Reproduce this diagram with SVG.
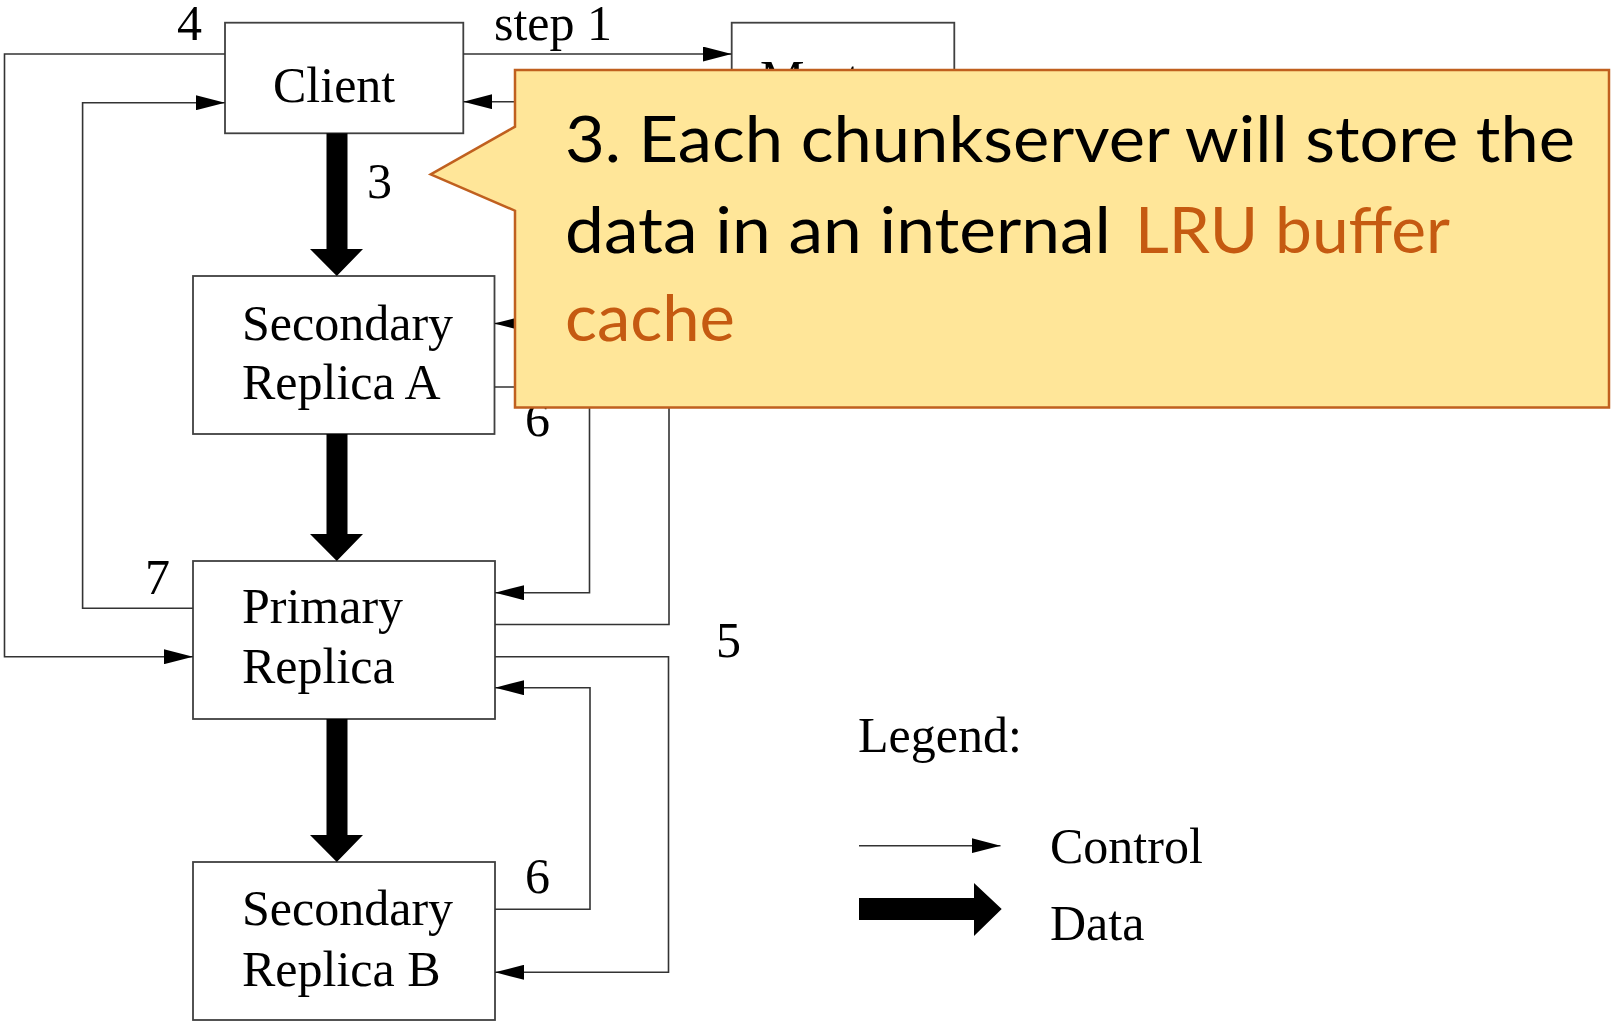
<svg xmlns="http://www.w3.org/2000/svg" width="1611" height="1023" viewBox="0 0 1611 1023">
  <style>
    .box { fill: #ffffff; stroke: #404040; stroke-width: 1.8; }
    .lbl { font-family: "Liberation Serif", "Times New Roman", serif; font-size: 50px; fill: #000000; }
    .ctl { fill: none; stroke: #333333; stroke-width: 1.6; marker-end: url(#head); }
    .data { fill: #000000; stroke: none; }
    .note { font-family: Lato, "Open Sans", sans-serif; font-size: 63px; fill: #000000; }
    .hot { fill: #C55A11; }
  </style>
  <defs>
    <marker id="head" markerUnits="userSpaceOnUse" viewBox="0 0 29 15" refX="29" refY="7.5" markerWidth="29" markerHeight="15" orient="auto">
      <path d="M0,0 L29,7.5 L0,15 Z" fill="#000000"/>
    </marker>
  </defs>
  <rect width="1611" height="1023" fill="#ffffff"/>

  <!-- nodes -->
  <g id="client">
    <rect class="box" x="225" y="22.7" width="238.3" height="110.6"/>
    <text class="lbl" x="273" y="101.7">Client</text>
  </g>
  <g id="master">
    <rect class="box" x="731.7" y="22.7" width="222.6" height="150"/>
    <text class="lbl" x="760" y="95">Master</text>
  </g>
  <g id="secondary-a">
    <rect class="box" x="193" y="276" width="301.5" height="158"/>
    <text class="lbl" x="242" y="340">Secondary</text>
    <text class="lbl" x="242" y="399">Replica A</text>
  </g>
  <g id="primary">
    <rect class="box" x="193" y="561" width="302" height="158"/>
    <text class="lbl" x="242" y="623">Primary</text>
    <text class="lbl" x="242" y="683">Replica</text>
  </g>
  <g id="secondary-b">
    <rect class="box" x="193" y="862" width="302" height="158"/>
    <text class="lbl" x="242" y="925">Secondary</text>
    <text class="lbl" x="242" y="985.5">Replica B</text>
  </g>

  <!-- connectors -->
  <g id="connectors">
    <!-- control flow -->
    <path class="ctl" d="M463.3,54 H731.7"/>
    <path class="ctl" d="M731.7,101.7 H463.3"/>
    <path class="ctl" d="M225,54 H4.5 V656.7 H193"/>
    <path class="ctl" d="M193,608.3 H82.6 V102.7 H225"/>
    <path class="ctl" d="M495,624.5 H669 V323.5 H494.5"/>
    <path class="ctl" d="M494.5,387 H589.5 V592.7 H495"/>
    <path class="ctl" d="M495,656.7 H668.5 V972.3 H495"/>
    <path class="ctl" d="M495,909.3 H590 V687.7 H495"/>
    <!-- data flow -->
    <path class="data" d="M326.5,133.3 H347.5 V249 H363 L336.8,276 L310,249 H326.5 Z"/>
    <path class="data" d="M326.5,434 H347.5 V534 H363 L336.8,561 L310,534 H326.5 Z"/>
    <path class="data" d="M326.5,719 H347.5 V835 H363 L336.8,862 L310,835 H326.5 Z"/>
    <!-- step numbers -->
    <text class="lbl" x="494" y="39.5">step 1</text>
    <text class="lbl" x="177" y="39.5">4</text>
    <text class="lbl" x="367" y="198">3</text>
    <text class="lbl" x="145" y="594">7</text>
    <text class="lbl" x="525" y="436">6</text>
    <text class="lbl" x="716" y="657">5</text>
    <text class="lbl" x="525" y="893">6</text>
  </g>

  <!-- legend -->
  <g id="legend">
    <text class="lbl" x="858" y="751.7">Legend:</text>
    <path class="ctl" d="M859,845.7 H1000.5"/>
    <text class="lbl" x="1050" y="862.7">Control</text>
    <path class="data" d="M859,898 H974 V883 L1001.7,909 L974,936 V920 H859 Z"/>
    <text class="lbl" x="1050" y="940">Data</text>
  </g>

  <!-- callout -->
  <g id="callout">
    <path d="M515,70 H1609 V407.5 H515 V210.7 L430.7,174.3 L515,126.7 Z" fill="#FFE699" stroke="#C0601F" stroke-width="2.5" stroke-linejoin="miter"/>
    <text class="note" x="565" y="161.7" textLength="1010" lengthAdjust="spacingAndGlyphs">3. Each chunkserver will store the</text>
    <text class="note" x="565" y="252.7" textLength="546" lengthAdjust="spacingAndGlyphs">data in an internal</text>
    <text class="note hot" x="1135" y="252.7" textLength="315" lengthAdjust="spacingAndGlyphs">LRU buffer</text>
    <text class="note hot" x="565" y="340.5" textLength="170" lengthAdjust="spacingAndGlyphs">cache</text>
  </g>
</svg>
